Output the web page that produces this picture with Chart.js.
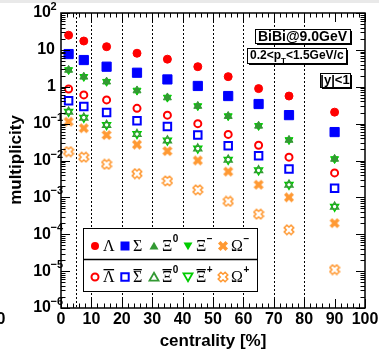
<!DOCTYPE html>
<html>
<head>
<meta charset="utf-8">
<script src="https://cdn.jsdelivr.net/npm/chart.js@4.4.1/dist/chart.umd.min.js"></script>
<style>
  html, body { margin: 0; padding: 0; background: #fff; overflow: hidden; }
</style>
</head>
<body>
<canvas id="chart" width="379" height="350"></canvas>
<script>
// centrality bin centres [%] and bin edges
const centrality = [2.5, 7.5, 15, 25, 35, 45, 55, 65, 75, 90];
const binEdges   = [5, 10, 20, 30, 40, 50, 60, 70, 80];

// multiplicities, particles
const lambda   = [25, 17.4, 12.2, 8.1, 5.6, 3.5, 1.88, 0.89, 0.56, 0.205];
const sigma    = [7.7, 5.3, 3.5, 2.4, 1.58, 1.05, 0.56, 0.34, 0.17, 0.059];
const xi0      = [2.85, 1.86, 1.37, 0.79, 0.51, 0.30, 0.16, 0.087, 0.036, 0.011];
const xiMinus  = [2.85, 1.86, 1.37, 0.79, 0.51, 0.30, 0.16, 0.087, 0.036, 0.011];
const omegaMinus = [0.113, 0.075, 0.049, 0.027, 0.018, 0.010, 0.005, 0.0022, 0.00100, 0.0002];

// antiparticles
const lambdaBar = [0.87, 0.60, 0.44, 0.26, 0.17, 0.10, 0.051, 0.026, 0.0123, 0.0046];
const sigmaBar  = [0.42, 0.29, 0.20, 0.12, 0.083, 0.049, 0.025, 0.0135, 0.0059, 0.00178];
const xi0Bar    = [0.21, 0.145, 0.092, 0.052, 0.035, 0.021, 0.0105, 0.0054, 0.0022, 0.00056];
const xiPlus    = [0.21, 0.145, 0.092, 0.052, 0.035, 0.021, 0.0105, 0.0054, 0.0022, 0.00056];
const omegaPlus = [0.0174, 0.0123, 0.0079, 0.0044, 0.0028, 0.0016, 0.00078, 0.00035, 0.000132, 0.000011];

// axis ticks
const xTicks = [0, 10, 20, 30, 40, 50, 60, 70, 80, 90, 100];
const yDecades = [-6, -5, -4, -3, -2, -1, 0, 1, 2];

const RED = '#ff0000', BLUE = '#0000ff', GREEN0 = '#339933', GREEN1 = '#00cc00', ORANGE = '#ff9933';
const SANS = '"Liberation Sans", Arial, sans-serif';
const SERIF = '"Liberation Serif", "Times New Roman", serif';

// fat X marker (filled / open), used for the Omegas
function xMarker(color, filled) {
  const s = 12, c = document.createElement('canvas');
  c.width = s; c.height = s;
  const g = c.getContext('2d');
  g.translate(s / 2, s / 2);
  g.rotate(Math.PI / 4);
  const r = filled ? 5.3 : 4.9, a = filled ? 1.8 : 1.9;
  const pts = [[a,r],[a,a],[r,a],[r,-a],[a,-a],[a,-r],[-a,-r],[-a,-a],[-r,-a],[-r,a],[-a,a],[-a,r]];
  g.beginPath();
  pts.forEach((p, i) => i ? g.lineTo(p[0], p[1]) : g.moveTo(p[0], p[1]));
  g.closePath();
  if (filled) { g.fillStyle = color; g.fill(); }
  else { g.strokeStyle = color; g.lineWidth = 1.5; g.stroke(); }
  return c;
}
const xFilled = xMarker(ORANGE, true);
const xOpen = xMarker(ORANGE, false);

function pts(vals) { return centrality.map((c, i) => ({ x: c, y: vals[i] })); }

function ds(label, vals, style, color, filled, radius, rot) {
  return {
    label: label,
    data: pts(vals),
    pointStyle: style,
    pointRadius: radius,
    pointRotation: rot || 0,
    pointBackgroundColor: filled ? color : 'rgba(0,0,0,0)',
    pointBorderColor: color,
    pointBorderWidth: filled ? 1 : 2,
    showLine: false
  };
}

const datasets = [
  ds('Omega+', omegaPlus, xOpen, ORANGE, false, 6),
  ds('Omega-', omegaMinus, xFilled, ORANGE, true, 6),
  ds('Xi0bar', xi0Bar, 'triangle', GREEN0, false, 4.6),
  ds('Xi+', xiPlus, 'triangle', GREEN1, false, 4.6, 180),
  ds('Xi0', xi0, 'triangle', GREEN0, true, 4.6),
  ds('Xi-', xiMinus, 'triangle', GREEN1, true, 4.6, 180),
  ds('Sigmabar', sigmaBar, 'rect', BLUE, false, 5.3),
  ds('Lambdabar', lambdaBar, 'circle', RED, false, 3.5),
  ds('Sigma', sigma, 'rect', BLUE, true, 6.5),
  ds('Lambda', lambda, 'circle', RED, true, 4)
];
datasets.forEach(d => { d.pointBorderWidth = d.pointBackgroundColor === 'rgba(0,0,0,0)' ? (d.pointStyle === 'triangle' ? 1.4 : 2) : 1; });

function drawMarker(ctx, kind, x, y, color, filled) {
  ctx.save();
  ctx.fillStyle = color; ctx.strokeStyle = color;
  ctx.lineWidth = filled ? 1 : 2;
  ctx.beginPath();
  if (kind === 'circle') {
    ctx.arc(x, y, filled ? 4 : 3.5, 0, Math.PI * 2);
  } else if (kind === 'rect') {
    const h = filled ? 4.5 : 3.7;
    ctx.rect(x - h, y - h, 2 * h, 2 * h);
  } else if (kind === 'up' || kind === 'down') {
    const r = 5.2, s = kind === 'up' ? -1 : 1;
    ctx.moveTo(x, y + s * r);
    ctx.lineTo(x + r * 0.866, y - s * r * 0.5);
    ctx.lineTo(x - r * 0.866, y - s * r * 0.5);
    ctx.closePath();
    if (!filled) ctx.lineWidth = 1.8;
  }
  if (kind === 'xf' || kind === 'xo') {
    ctx.drawImage(kind === 'xf' ? xFilled : xOpen, x - 6, y - 6);
  } else if (filled) { ctx.fill(); } else { ctx.stroke(); }
  ctx.restore();
}

// greek symbol with optional overline and superscript
function greek(ctx, sym, x, y, bar, sup) {
  ctx.font = '16px ' + SERIF;
  ctx.textAlign = 'left'; ctx.textBaseline = 'middle';
  ctx.fillStyle = '#000';
  ctx.fillText(sym, x, y + 1);
  const w = ctx.measureText(sym).width;
  if (bar) {
    ctx.fillRect(x + 0.5, y - 8, w - 1, 1.3);
  }
  if (sup) {
    ctx.font = 'bold 10px ' + SANS;
    ctx.fillText(sup, x + w + 0.5, y - 7);
  }
}

function box(ctx, x0, y0, x1, y1, shadow) {
  ctx.save();
  if (shadow) { ctx.fillStyle = '#000'; ctx.fillRect(x0 + 2, y0 + 2, x1 - x0, y1 - y0); }
  ctx.fillStyle = '#fff'; ctx.fillRect(x0, y0, x1 - x0, y1 - y0);
  ctx.strokeStyle = '#000'; ctx.lineWidth = 1;
  ctx.strokeRect(x0 + 0.5, y0 + 0.5, x1 - x0, y1 - y0);
  ctx.restore();
}

const rootStyle = {
  id: 'rootStyle',
  beforeDraw(chart) {
    const ctx = chart.ctx;
    ctx.save();
    ctx.fillStyle = '#fff'; ctx.fillRect(0, 0, chart.width, chart.height);
    ctx.fillStyle = '#e9e9e9'; ctx.fillRect(0, 0, chart.width, 3);
    ctx.restore();
  },
  beforeDatasetsDraw(chart) {
    const { ctx, chartArea: a, scales: { x } } = chart;
    ctx.save();
    ctx.strokeStyle = '#000'; ctx.lineWidth = 1; ctx.setLineDash([2, 2]);
    binEdges.forEach(e => {
      const px = Math.round(x.getPixelForValue(e)) + 0.5;
      ctx.beginPath(); ctx.moveTo(px, a.top); ctx.lineTo(px, a.bottom); ctx.stroke();
    });
    ctx.restore();
  },
  afterDraw(chart) {
    const { ctx, chartArea: a, scales: { x, y } } = chart;
    ctx.save();
    ctx.strokeStyle = '#000'; ctx.fillStyle = '#000'; ctx.lineWidth = 1;

    // ticks on all four sides
    ctx.beginPath();
    for (let v = 0; v <= 100; v += 2) {
      const px = Math.round(x.getPixelForValue(v)) + 0.5;
      const len = v % 10 === 0 ? 9 : 4.5;
      ctx.moveTo(px, a.bottom); ctx.lineTo(px, a.bottom - len);
      ctx.moveTo(px, a.top); ctx.lineTo(px, a.top + len);
    }
    yDecades.forEach(k => {
      for (let m = 1; m <= 9; m++) {
        if (k === 2 && m > 1) break;
        const py = Math.round(y.getPixelForValue(m * Math.pow(10, k))) + 0.5;
        const len = m === 1 ? 9 : 4.5;
        ctx.moveTo(a.left, py); ctx.lineTo(a.left + len, py);
        ctx.moveTo(a.right, py); ctx.lineTo(a.right - len, py);
      }
    });
    ctx.stroke();
    ctx.lineWidth = 1.5;
    ctx.strokeRect(a.left, a.top, a.right - a.left, a.bottom - a.top);

    // tick labels
    ctx.textBaseline = 'middle';
    ctx.font = 'bold 16px ' + SANS;
    ctx.textAlign = 'center';
    xTicks.forEach(v => ctx.fillText(String(v), x.getPixelForValue(v), 320));
    ctx.fillText('0', 1, 320);
    yDecades.forEach(k => {
      const py = y.getPixelForValue(Math.pow(10, k));
      ctx.font = 'bold 16px ' + SANS;
      if (k === 0) { ctx.textAlign = 'right'; ctx.fillText('1', 56, py); return; }
      if (k === 1) { ctx.textAlign = 'right'; ctx.fillText('10', 55, py); return; }
      ctx.textAlign = 'right'; ctx.fillText('10', 51, py);
      ctx.font = 'bold 11px ' + SANS; ctx.textAlign = 'left';
      ctx.fillText(k < 0 ? '\u2212' + (-k) : String(k), 50.5, py - 6);
    });

    // axis titles
    ctx.font = 'bold 17px ' + SANS;
    ctx.textAlign = 'center';
    ctx.fillText('centrality [%]', 213, 341);
    ctx.save();
    ctx.translate(16, 160); ctx.rotate(-Math.PI / 2);
    ctx.fillText('multiplicity', 0, 0);
    ctx.restore();

    // info boxes
    box(ctx, 255, 29, 350, 43, true);
    ctx.fillStyle = '#000'; ctx.font = 'bold 14px ' + SANS; ctx.textAlign = 'center';
    ctx.fillText('BiBi@9.0GeV', 302.5, 37);
    box(ctx, 247, 48, 346, 63, true);
    ctx.fillStyle = '#000'; ctx.textAlign = 'left';
    let tx = 250;
    ctx.font = 'bold 12px ' + SANS; ctx.fillText('0.2<p', tx, 56); tx += ctx.measureText('0.2<p').width;
    ctx.font = 'bold 8px ' + SANS; ctx.fillText('T', tx, 61); tx += ctx.measureText('T').width;
    ctx.font = 'bold 12px ' + SANS; ctx.fillText('<1.5GeV/c', tx, 56);
    box(ctx, 320, 73, 350, 87, true);
    ctx.fillStyle = '#000'; ctx.font = 'bold 13px ' + SANS; ctx.textAlign = 'center';
    ctx.fillText('|y|<1', 335, 80.5);

    // legend
    box(ctx, 83, 228, 257, 291, false);
    ctx.beginPath(); ctx.moveTo(83, 259.5); ctx.lineTo(258, 259.5); ctx.stroke();
    const r1 = 246, r2 = 277;
    drawMarker(ctx, 'circle', 95, r1, RED, true);   greek(ctx, '\u039B', 103, r1);
    drawMarker(ctx, 'rect', 125, r1, BLUE, true);   greek(ctx, '\u03A3', 133, r1);
    drawMarker(ctx, 'up', 154, r1 + 1, GREEN0, true); greek(ctx, '\u039E', 162, r1, false, '0');
    drawMarker(ctx, 'down', 188, r1 - 1, GREEN1, true); greek(ctx, '\u039E', 196, r1, false, '\u2212');
    drawMarker(ctx, 'xf', 223, r1, ORANGE, true);   greek(ctx, '\u03A9', 231, r1, false, '\u2212');
    drawMarker(ctx, 'circle', 95, r2, RED, false);  greek(ctx, '\u039B', 103, r2, true);
    drawMarker(ctx, 'rect', 125, r2, BLUE, false);  greek(ctx, '\u03A3', 133, r2, true);
    drawMarker(ctx, 'up', 154, r2 + 1, GREEN0, false); greek(ctx, '\u039E', 162, r2, true, '0');
    drawMarker(ctx, 'down', 188, r2 - 1, GREEN1, false); greek(ctx, '\u039E', 196, r2, true, '+');
    drawMarker(ctx, 'xo', 223, r2, ORANGE, false);  greek(ctx, '\u03A9', 231, r2, false, '+');
    ctx.restore();
  }
};

new Chart(document.getElementById('chart').getContext('2d'), {
  type: 'scatter',
  data: { datasets: datasets },
  options: {
    responsive: false,
    devicePixelRatio: 1,
    animation: false,
    layout: { padding: { top: 13, right: 14, left: 0, bottom: 0 } },
    plugins: { legend: { display: false }, tooltip: { enabled: false } },
    scales: {
      x: {
        type: 'linear', min: 0, max: 100,
        grid: { display: false }, border: { display: false },
        ticks: { display: false },
        afterFit(s) { s.height = 42; }
      },
      y: {
        type: 'logarithmic', min: 1e-6, max: 1e2,
        grid: { display: false }, border: { display: false },
        ticks: { display: false },
        afterFit(s) { s.width = 61; }
      }
    }
  },
  plugins: [rootStyle]
});
</script>
</body>
</html>
